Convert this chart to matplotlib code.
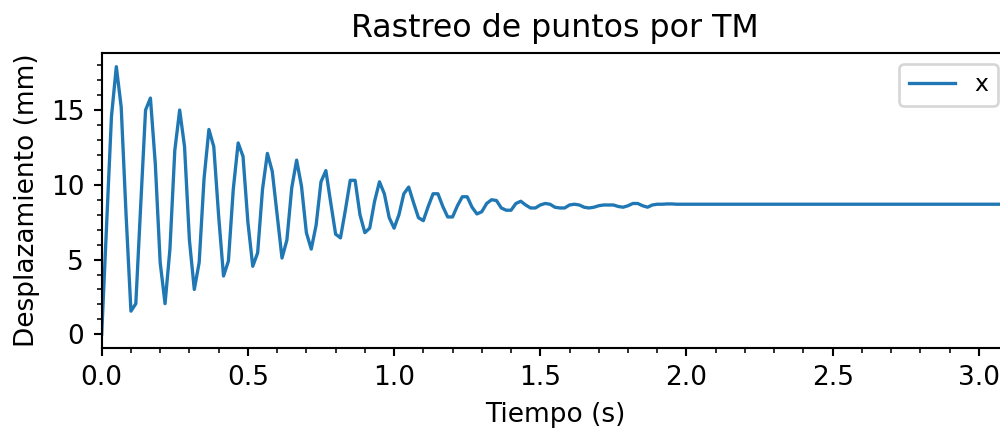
import matplotlib
matplotlib.use('Agg')
from matplotlib import pyplot as plt
import numpy as np

FPS = 60  # camera frame rate
DPI = 190

# tracked displacement (mm), one value per frame
x_mm = [
    0.0, 7.3, 14.55, 17.9, 15.2, 8.0, 1.55, 2.05, 8.6, 15.0,
    15.8, 11.4, 4.8, 2.05, 5.7, 12.3, 15.0, 12.55, 6.3, 3.0,
    4.8, 10.4, 13.7, 12.55, 7.9, 3.9, 4.9, 9.7, 12.8, 11.9,
    7.5, 4.55, 5.45, 9.7, 12.1, 10.9, 8.0, 5.1, 6.3, 9.8,
    11.65, 9.9, 6.8, 5.7, 7.3, 10.2, 10.95, 8.8, 6.7, 6.45,
    8.3, 10.3, 10.3, 8.0, 6.8, 7.1, 8.9, 10.2, 9.4, 7.8,
    7.1, 8.0, 9.4, 9.85, 8.8, 7.8, 7.6, 8.55, 9.4, 9.4,
    8.55, 7.85, 7.85, 8.6, 9.2, 9.2, 8.5, 8.05, 8.2, 8.75,
    9.0, 8.95, 8.45, 8.3, 8.3, 8.75, 8.9, 8.65, 8.45, 8.45,
    8.65, 8.75, 8.7, 8.5, 8.45, 8.45, 8.65, 8.7, 8.65, 8.5,
    8.45, 8.5, 8.6, 8.65, 8.65, 8.65, 8.55, 8.5, 8.6, 8.75,
    8.75, 8.6, 8.5, 8.65, 8.7, 8.7, 8.72, 8.72, 8.7, 8.7,
    8.7, 8.7, 8.7, 8.7, 8.7, 8.7, 8.7, 8.7, 8.7, 8.7,
    8.7, 8.7, 8.7, 8.7, 8.7, 8.7, 8.7, 8.7, 8.7, 8.7,
    8.7, 8.7, 8.7, 8.7, 8.7, 8.7, 8.7, 8.7, 8.7, 8.7,
    8.7, 8.7, 8.7, 8.7, 8.7, 8.7, 8.7, 8.7, 8.7, 8.7,
    8.7, 8.7, 8.7, 8.7, 8.7, 8.7, 8.7, 8.7, 8.7, 8.7,
    8.7, 8.7, 8.7, 8.7, 8.7, 8.7, 8.7, 8.7, 8.7, 8.7,
    8.7, 8.7, 8.7, 8.7, 8.7, 8.7, 8.7,
]

t = np.arange(len(x_mm)) / FPS

plt.rcParams['xtick.major.size'] = 3.15
plt.rcParams['ytick.major.size'] = 3.15
plt.rcParams['xtick.minor.size'] = 1.9
plt.rcParams['ytick.minor.size'] = 1.9

fig = plt.figure(figsize=(1000 / DPI, 428 / DPI), dpi=DPI)
# axes run a little past the right edge of the image
ax = fig.add_axes([0.1017, 0.1876, 0.9064, 0.6879])
ax.plot(t, x_mm, label='x', linewidth=1.25)
ax.set_xlim(t[0], t[-1])
ax.minorticks_on()
ax.set_title('Rastreo de puntos por TM')
ax.set_xlabel('Tiempo (s)')
ax.set_ylabel('Desplazamiento (mm)')
ax.legend(loc='upper right', fontsize=8.9, borderaxespad=0.45)

plt.savefig('out.png', dpi=DPI)
